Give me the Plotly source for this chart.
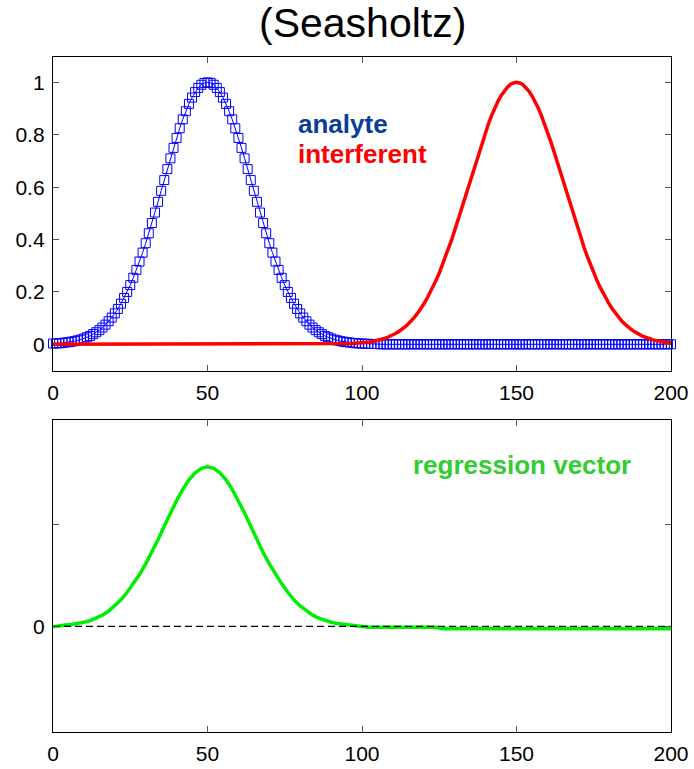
import plotly.graph_objects as go

# ---------------- data ----------------
x_top = list(range(0, 201))

analyte = [
    0.003, 0.003, 0.004, 0.005, 0.007, 0.008, 0.010, 0.012, 0.015, 0.018,
    0.022, 0.027, 0.032, 0.039, 0.046, 0.054, 0.064, 0.075, 0.088, 0.102,
    0.118, 0.135, 0.155, 0.177, 0.200, 0.226, 0.254, 0.284, 0.316, 0.350,
    0.386, 0.424, 0.463, 0.503, 0.544, 0.586, 0.627, 0.669, 0.710, 0.750,
    0.788, 0.825, 0.859, 0.890, 0.918, 0.942, 0.963, 0.979, 0.991, 0.998,
    1.000,
    0.998, 0.991, 0.979, 0.963, 0.942, 0.918, 0.890, 0.859, 0.825, 0.788,
    0.750, 0.710, 0.669, 0.627, 0.586, 0.544, 0.503, 0.463, 0.424, 0.386,
    0.350, 0.316, 0.284, 0.254, 0.226, 0.200, 0.177, 0.155, 0.135, 0.118,
    0.102, 0.088, 0.075, 0.064, 0.054, 0.046, 0.039, 0.032, 0.027, 0.022,
    0.018, 0.015, 0.012, 0.010, 0.008, 0.007, 0.005, 0.004, 0.003, 0.003,
    0.002, 0.002, 0.001, 0.001, 0.001, 0.0, 0.0, 0.0, 0.0, 0.0,
    0.0, 0.0, 0.0, 0.0, 0.0, 0.0, 0.0, 0.0, 0.0, 0.0,
    0.0, 0.0, 0.0, 0.0, 0.0, 0.0, 0.0, 0.0, 0.0, 0.0,
    0.0, 0.0, 0.0, 0.0, 0.0, 0.0, 0.0, 0.0, 0.0, 0.0,
    0.0, 0.0, 0.0, 0.0, 0.0, 0.0, 0.0, 0.0, 0.0, 0.0,
    0.0, 0.0, 0.0, 0.0, 0.0, 0.0, 0.0, 0.0, 0.0, 0.0,
    0.0, 0.0, 0.0, 0.0, 0.0, 0.0, 0.0, 0.0, 0.0, 0.0,
    0.0, 0.0, 0.0, 0.0, 0.0, 0.0, 0.0, 0.0, 0.0, 0.0,
    0.0, 0.0, 0.0, 0.0, 0.0, 0.0, 0.0, 0.0, 0.0, 0.0,
    0.0, 0.0, 0.0, 0.0, 0.0, 0.0, 0.0, 0.0, 0.0, 0.0,
]

interferent = [
    0.0, 0.0, 0.0, 0.0, 0.0, 0.0, 0.0, 0.0, 0.0, 0.0,
    0.0, 0.0, 0.0, 0.0, 0.0, 0.0, 0.0, 0.0, 0.0, 0.0,
    0.0, 0.0, 0.0, 0.0, 0.0, 0.0, 0.0, 0.0, 0.0, 0.0,
    0.0, 0.0, 0.0, 0.0, 0.0, 0.0, 0.0, 0.0, 0.0, 0.0,
    0.0, 0.0, 0.0, 0.0, 0.0, 0.0, 0.0, 0.0, 0.0, 0.0,
    0.0, 0.0, 0.0, 0.0, 0.0, 0.0, 0.0, 0.0, 0.0, 0.0,
    0.0, 0.0, 0.0, 0.0, 0.0, 0.0, 0.0, 0.0, 0.0, 0.0,
    0.0, 0.0, 0.0, 0.0, 0.0, 0.0, 0.0, 0.0, 0.0, 0.0,
    0.0, 0.0, 0.0, 0.0, 0.0, 0.0, 0.0, 0.0, 0.0, 0.0,
    0.0, 0.0, 0.0, 0.0, 0.0, 0.0, 0.002, 0.003, 0.004, 0.0045,
    0.0055,
    0.007, 0.008, 0.010, 0.012, 0.015, 0.018, 0.021, 0.025, 0.030, 0.036,
    0.042, 0.050, 0.058, 0.067, 0.078, 0.090, 0.104, 0.119, 0.135, 0.154,
    0.174, 0.196, 0.219, 0.245, 0.272, 0.302, 0.333, 0.365, 0.399, 0.435,
    0.472, 0.510, 0.548, 0.587, 0.626, 0.665, 0.703, 0.741, 0.777, 0.812,
    0.845, 0.875, 0.903, 0.928, 0.949, 0.967, 0.981, 0.992, 0.998, 1.000,
    0.998, 0.992, 0.981, 0.967, 0.949, 0.928, 0.903, 0.875, 0.845, 0.812,
    0.777, 0.741, 0.703, 0.665, 0.626, 0.587, 0.548, 0.510, 0.472, 0.435,
    0.399, 0.365, 0.333, 0.302, 0.272, 0.245, 0.219, 0.196, 0.174, 0.154,
    0.135, 0.119, 0.104, 0.090, 0.078, 0.067, 0.058, 0.050, 0.042, 0.036,
    0.030, 0.025, 0.021, 0.018, 0.015, 0.012, 0.010, 0.008, 0.007, 0.0055,
]

x_bottom = list(range(0, 201, 2))

regression = [
    -0.005, 0.007, 0.012, 0.018, 0.027, 0.040, 0.056, 0.080, 0.110, 0.150,
    0.200, 0.260, 0.335, 0.420, 0.510, 0.615, 0.727, 0.854, 0.985, 1.115,
    1.238, 1.348, 1.441, 1.511, 1.555,
    1.570,
    1.555, 1.511, 1.441, 1.348, 1.238, 1.115, 0.985, 0.854, 0.727, 0.615,
    0.510, 0.420, 0.335, 0.260, 0.200, 0.150, 0.110, 0.080, 0.056, 0.040,
    0.027, 0.018, 0.012, 0.005, -0.005,
    -0.010, -0.010, -0.010, -0.010, -0.010, -0.010, -0.010, -0.010, -0.010, -0.010,
    -0.010, -0.010, -0.025, -0.025, -0.025, -0.025, -0.025, -0.025, -0.025, -0.025,
    -0.025, -0.025, -0.025, -0.025, -0.025, -0.025, -0.025, -0.025, -0.025, -0.025,
    -0.025, -0.025, -0.025, -0.025, -0.025, -0.025, -0.025, -0.025, -0.025, -0.025,
    -0.025, -0.025, -0.025, -0.025, -0.025, -0.025, -0.025, -0.025, -0.025, -0.025,
]

x_ticks = [0, 50, 100, 150, 200]
y_top_ticks = [0, 0.2, 0.4, 0.6, 0.8, 1]
y_top_labels = ["0", "0.2", "0.4", "0.6", "0.8", "1"]
y_bot_ticks = [0, 1]
y_bot_labels = ["0", ""]
zero_x = [0, 200]
zero_y = [0, 0]

# ---------------- figure ----------------
FONT = "Liberation Sans, Arial, Helvetica, sans-serif"
fig = go.Figure()

fig.add_trace(go.Scatter(
    x=x_top, y=analyte, mode="lines+markers", xaxis="x", yaxis="y",
    line=dict(color="#0000ff", width=1),
    marker=dict(symbol="square-open", size=9, color="#0000ff",
                line=dict(width=1, color="#0000ff")),
    showlegend=False, cliponaxis=False))
fig.add_trace(go.Scatter(
    x=x_top, y=interferent, mode="lines", xaxis="x", yaxis="y",
    line=dict(color="#ff0000", width=3.5), showlegend=False))

fig.add_trace(go.Scatter(
    x=x_bottom, y=regression, mode="lines", xaxis="x2", yaxis="y2",
    line=dict(color="#00ee00", width=3.5), showlegend=False))
fig.add_trace(go.Scatter(
    x=zero_x, y=zero_y, mode="lines", xaxis="x2", yaxis="y2",
    line=dict(color="black", width=1.3, dash="7px,4px"), showlegend=False))

axis_common = dict(
    showline=True, linecolor="black", linewidth=1.3, mirror="ticks",
    ticks="inside", ticklen=6, tickcolor="#555555", tickwidth=1,
    showgrid=False, zeroline=False, automargin=False,
    tickfont=dict(family=FONT, size=21, color="black"),
)

fig.update_layout(
    width=694, height=769,
    margin=dict(l=53, r=23, t=57, b=37, autoexpand=False),
    paper_bgcolor="white", plot_bgcolor="white",
    xaxis=dict(axis_common, domain=[0, 1], anchor="y", range=[0, 200],
               tickvals=x_ticks, ticklabelstandoff=3),
    yaxis=dict(axis_common, domain=[0.5348, 1], anchor="x", range=[-0.102, 1.097],
               tickvals=y_top_ticks, ticktext=y_top_labels, ticklabelstandoff=3),
    xaxis2=dict(axis_common, domain=[0, 1], anchor="y2", range=[0, 200],
                tickvals=x_ticks, ticklabelstandoff=3),
    yaxis2=dict(axis_common, domain=[0, 0.4622], anchor="x2", range=[-1.04, 2.03],
                tickvals=y_bot_ticks, ticktext=y_bot_labels, ticklabelstandoff=3),
    annotations=[
        dict(text="(Seasholtz)", xref="paper", yref="paper", x=0.5, y=1.05,
             xanchor="center", yanchor="middle", showarrow=False,
             font=dict(family=FONT, size=41, color="black")),
        dict(text="<b>analyte</b>", xref="x", yref="y", x=78.5, y=0.843,
             xanchor="left", yanchor="middle", showarrow=False,
             font=dict(family=FONT, size=26, color="#0a3c9c")),
        dict(text="<b>interferent</b>", xref="x", yref="y", x=78.5, y=0.728,
             xanchor="left", yanchor="middle", showarrow=False,
             font=dict(family=FONT, size=26, color="#ff0000")),
        dict(text="<b>regression vector</b>", xref="x2", yref="y2", x=115.8, y=1.587,
             xanchor="left", yanchor="middle", showarrow=False,
             font=dict(family=FONT, size=26, color="#33cc33")),
    ],
)

fig.write_html("out.html")
